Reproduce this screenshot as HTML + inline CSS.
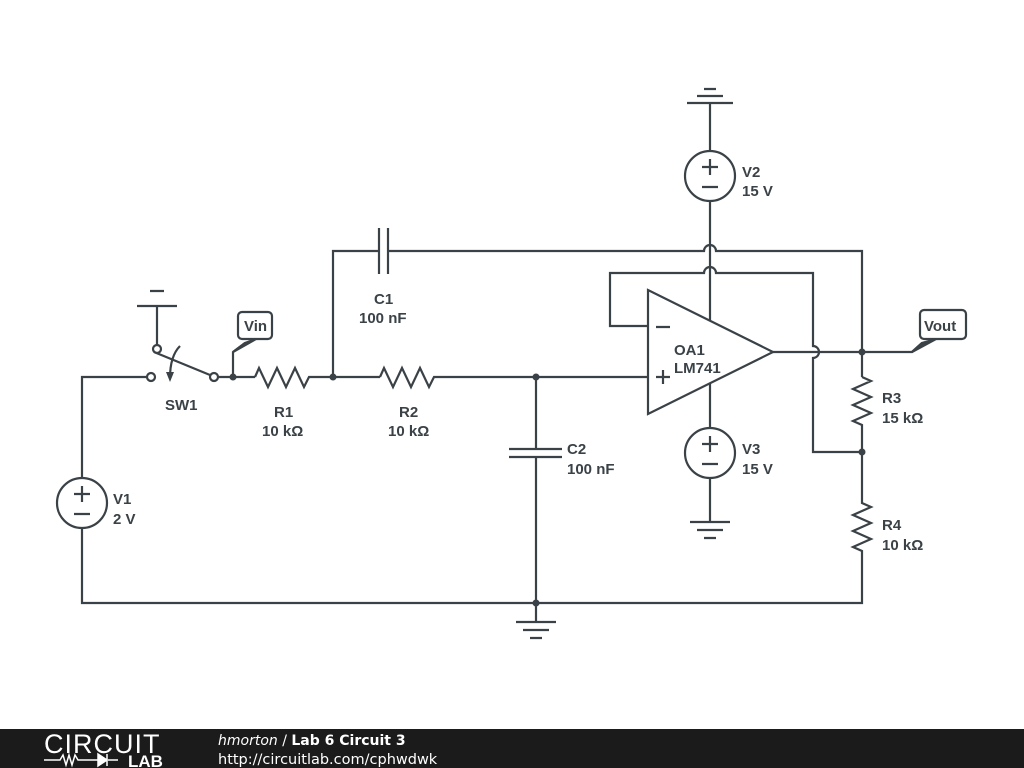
<!DOCTYPE html>
<html><head><meta charset="utf-8"><style>
html,body{margin:0;padding:0;background:#fff;width:1024px;height:768px;overflow:hidden}
svg{display:block}
text{font-family:"Liberation Sans",sans-serif;font-weight:bold;font-size:15px;fill:#3a4247}
</style></head><body>
<svg width="1024" height="768" viewBox="0 0 1024 768">
<g stroke="#3a4247" stroke-width="2.2" fill="none" stroke-linejoin="miter">
<path d="M82 478 V377 H147"/>
<path d="M82 528 V603 H862 V555"/>
<circle cx="82" cy="503" r="25"/>
<path d="M74 494 H90 M82 486 V502 M74 514 H90"/>
<circle cx="151" cy="377" r="4" fill="#fff"/>
<circle cx="214" cy="377" r="4" fill="#fff"/>
<circle cx="157" cy="349" r="4" fill="#fff"/>
<path d="M154 352 L210 375"/>
<path d="M180 346 Q170 356 170 378"/>
<path d="M157 345 V306 M137 306 H177 M150 291 H164"/>
<path d="M218 377 H255"/>
<path d="M233 377 V352 L245 343"/>
<path d="M233 352 L245 343 L256 339 Z" fill="#3a4247"/>
<rect x="238" y="312" width="34" height="27" rx="4" fill="#fff"/>
<path d="M255 377 L259 368 L268 387 L277 368 L286 387 L295 368 L304 387 L309 377 H380"/>
<path d="M333 377 V251 H379 M379 228 V274 M388 228 V274 M388 251 H704 A6 6 0 0 1 716 251 H862 V377"/>
<path d="M380 377 L384 368 L393 387 L402 368 L411 387 L420 368 L429 387 L434 377 H648"/>
<path d="M536 377 V449 M509 449 H562 M509 457 H562 M536 457 V603"/>
<path d="M536 603 V622 M516 622 H556 M523 630 H549 M530 638 H542"/>
<path d="M648 290 L648 414 L773 352 Z"/>
<path d="M648 326 H610 V273 H704 A6 6 0 0 1 716 273 H813 V346 A6 6 0 0 1 813 358 V452 H862"/>
<path d="M773 352 H912 L922 343"/>
<path d="M912 352 L922 343 L936 339 Z" fill="#3a4247"/>
<rect x="920" y="310" width="46" height="29" rx="4" fill="#fff"/>
<circle cx="710" cy="176" r="25"/>
<path d="M702 167 H718 M710 159 V175 M702 187 H718"/>
<path d="M710 151 V103 M687 103 H733 M697 96 H723 M704 89 H716"/>
<path d="M710 201 V321"/>
<circle cx="710" cy="453" r="25"/>
<path d="M702 444 H718 M710 436 V452 M702 464 H718"/>
<path d="M710 383 V428 M710 478 V522 M690 522 H730 M697 530 H723 M704 538 H716"/>
<path d="M862 377 L871 381 L853 389 L871 397 L853 405 L871 413 L853 421 L862 425 V503 L871 507 L853 515 L871 523 L853 531 L871 539 L853 547 L862 551 V555"/>
<path d="M656 327 H670 M656 377 H670 M663 370 V384"/>
</g>
<g fill="#3a4247">
<circle cx="233" cy="377" r="3.5"/><circle cx="333" cy="377" r="3.5"/>
<circle cx="536" cy="377" r="3.5"/><circle cx="536" cy="603" r="3.5"/>
<circle cx="862" cy="352" r="3.5"/><circle cx="862" cy="452" r="3.5"/>
</g>
<path d="M166 372 L170 382 L174 372 Z" fill="#3a4247"/>
<text x="244" y="331">Vin</text>
<text x="924" y="331">Vout</text>
<text x="165" y="410">SW1</text>
<text x="274" y="417">R1</text><text x="262" y="436">10 kΩ</text>
<text x="399" y="417">R2</text><text x="388" y="436">10 kΩ</text>
<text x="374" y="304">C1</text><text x="359" y="323">100 nF</text>
<text x="567" y="454">C2</text><text x="567" y="474">100 nF</text>
<text x="113" y="504">V1</text><text x="113" y="524">2 V</text>
<text x="742" y="177">V2</text><text x="742" y="196">15 V</text>
<text x="742" y="454">V3</text><text x="742" y="474">15 V</text>
<text x="674" y="355">OA1</text><text x="674" y="373">LM741</text>
<text x="882" y="403">R3</text><text x="882" y="423">15 kΩ</text>
<text x="882" y="530">R4</text><text x="882" y="550">10 kΩ</text>
<rect x="0" y="729" width="1024" height="39" fill="#1b1b1b"/>
<text x="44" y="753" style="font-weight:normal;font-size:27px;fill:#fff;letter-spacing:1px">CIRCUIT</text>
<path d="M44 760 H60 L63 755 L66 765 L69 755 L72 765 L75 755 L78 760 H98 M108 760 H118" stroke="#fff" stroke-width="1.5" fill="none"/>
<path d="M98 754 L107 760 L98 766 Z M107 754 V766" fill="#fff" stroke="#fff" stroke-width="1.5"/>
<text x="128" y="767" style="font-size:17px;fill:#fff">LAB</text>
<text x="218" y="745" style="font-family:'DejaVu Sans',sans-serif;font-size:14px;fill:#fff"><tspan style="font-style:italic;font-weight:normal">hmorton</tspan><tspan style="font-weight:normal"> / </tspan>Lab 6 Circuit 3</text>
<text x="218" y="764" style="font-family:'DejaVu Sans',sans-serif;font-weight:normal;font-size:14.5px;fill:#fff">http://circuitlab.com/cphwdwk</text>
</svg>
</body></html>
